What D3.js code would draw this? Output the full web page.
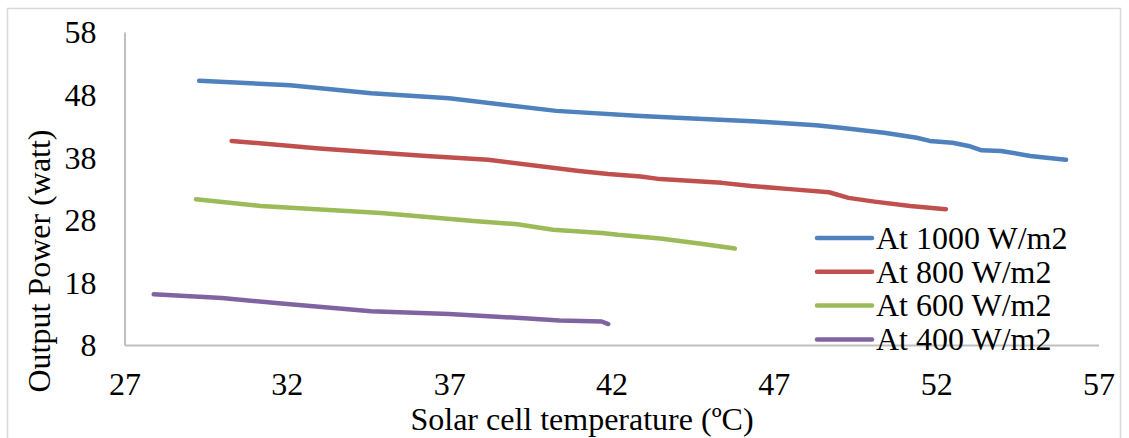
<!DOCTYPE html>
<html>
<head>
<meta charset="utf-8">
<script src="https://cdn.jsdelivr.net/npm/d3@7"></script>
<style>
  html, body { margin: 0; padding: 0; background: #fff; }
  svg { display: block; font-family: "Liberation Serif", "Times New Roman", serif; }
</style>
</head>
<body>
<div id="chart"></div>
<script>
// Output power vs solar cell temperature at four irradiance levels
const xTicks = [27, 32, 37, 42, 47, 52, 57];
const yTicks = [8, 18, 28, 38, 48, 58];

const seriesNames = ["At 1000 W/m2", "At 800 W/m2", "At 600 W/m2", "At 400 W/m2"];
const seriesColors = ["#4f81bd", "#c0504d", "#9bbb59", "#8064a2"];

const temp1000 = [29.3, 32.1, 34.6, 37.0, 40.3, 42.9, 44.5, 46.5, 48.3, 49.05, 50.4, 51.4, 51.8, 52.5, 53.0, 53.4, 54.0, 54.9, 55.4, 56.0];
const power1000 = [50.2, 49.5, 48.2, 47.4, 45.4, 44.6, 44.2, 43.7, 43.1, 42.7, 41.9, 41.1, 40.6, 40.3, 39.8, 39.1, 39.0, 38.2, 37.9, 37.6];

const temp800 = [30.3, 33.0, 36.3, 38.2, 41.0, 41.9, 42.9, 43.5, 45.4, 46.3, 47.5, 48.7, 49.3, 50.1, 51.2, 52.3];
const power800 = [40.6, 39.4, 38.2, 37.6, 35.8, 35.3, 34.9, 34.5, 33.9, 33.4, 32.9, 32.4, 31.5, 30.9, 30.2, 29.7];

const temp600 = [29.2, 31.2, 34.9, 37.75, 39.1, 40.2, 41.7, 42.2, 43.5, 44.7, 45.8];
const power600 = [31.3, 30.2, 29.1, 27.8, 27.3, 26.4, 25.9, 25.6, 25.0, 24.2, 23.4];

const temp400 = [27.9, 30.0, 32.1, 34.6, 37.0, 39.2, 40.4, 41.7, 41.9];
const power400 = [16.1, 15.5, 14.5, 13.4, 12.95, 12.3, 11.9, 11.75, 11.35];

const allTemps = [temp1000, temp800, temp600, temp400];
const allPowers = [power1000, power800, power600, power400];

const width = 1129, height = 438;
const svg = d3.select("#chart").append("svg")
  .attr("width", width).attr("height", height)
  .attr("viewBox", `0 0 ${width} ${height}`);

svg.append("rect").attr("width", width).attr("height", height).attr("fill", "#fff");
// chart area border (bottom edge runs past the picture)
svg.append("rect")
  .attr("x", 7.5).attr("y", 8.5)
  .attr("width", 1113).attr("height", 450)
  .attr("fill", "none").attr("stroke", "#d9d9d9").attr("stroke-width", 1.5);

const x = d3.scaleLinear().domain([27, 57]).range([124.5, 1098.5]);
const y = d3.scaleLinear().domain([8, 58]).range([345, 32]);

const fontSize = 32;
const serif = "Liberation Serif, Times New Roman, serif";

// axes
const xAxis = d3.axisBottom(x).tickValues(xTicks).tickSize(0).tickPadding(0).tickFormat(d3.format("d"));
const yAxis = d3.axisLeft(y).tickValues(yTicks).tickSize(0).tickPadding(0).tickFormat(d3.format("d"));

const gx = svg.append("g").attr("transform", `translate(0,${y(8)})`).call(xAxis);
gx.select(".domain").attr("stroke", "#bfbfbf").attr("stroke-width", 2);
gx.selectAll("text")
  .attr("font-family", serif)
  .attr("font-size", fontSize).attr("fill", "#000")
  .attr("dy", null).attr("y", 50);

const gy = svg.append("g").attr("transform", `translate(${x(27)},0)`).call(yAxis);
gy.select(".domain").attr("stroke", "#bfbfbf").attr("stroke-width", 2);
gy.selectAll("text")
  .attr("font-family", serif)
  .attr("font-size", fontSize).attr("fill", "#000")
  .attr("x", -28).attr("dy", "0.34em");

// axis titles
svg.append("text")
  .attr("x", 582).attr("y", 430)
  .attr("text-anchor", "middle")
  .attr("font-size", fontSize)
  .text("Solar cell temperature (ºC)");

svg.append("text")
  .attr("transform", "translate(50,261) rotate(-90)")
  .attr("text-anchor", "middle")
  .attr("font-size", fontSize)
  .text("Output Power (watt)");

// series
const line = d3.line().x(d => x(d[0])).y(d => y(d[1]));
const series = seriesNames.map((name, i) => ({
  name,
  color: seriesColors[i],
  points: allTemps[i].map((t, j) => [t, allPowers[i][j]])
}));

svg.append("g").selectAll("path")
  .data(series)
  .join("path")
  .attr("d", d => line(d.points))
  .attr("fill", "none")
  .attr("stroke", d => d.color)
  .attr("stroke-width", 4.5)
  .attr("stroke-linecap", "round")
  .attr("stroke-linejoin", "round");

// legend
const legend = svg.append("g");
const rows = legend.selectAll("g")
  .data(series)
  .join("g")
  .attr("transform", (d, i) => `translate(817,${238 + i * 33.8})`);
rows.append("line")
  .attr("x1", 0).attr("x2", 55)
  .attr("stroke", d => d.color)
  .attr("stroke-width", 4.5)
  .attr("stroke-linecap", "round");
rows.append("text")
  .attr("x", 59).attr("dy", "0.34em")
  .attr("font-size", fontSize)
  .text(d => d.name);
</script>
</body>
</html>
